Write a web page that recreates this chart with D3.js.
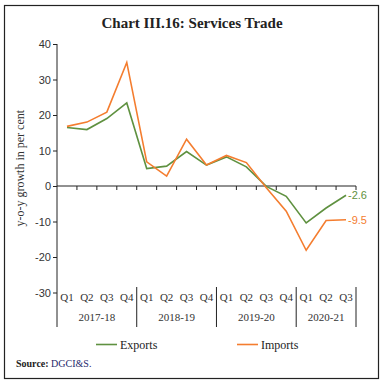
<!DOCTYPE html>
<html>
<head>
<meta charset="utf-8">
<script src="https://cdn.jsdelivr.net/npm/d3@7"></script>
<style>
  body { margin: 0; background: #fff; }
  svg { display: block; }
</style>
</head>
<body>
<script>
// data
let quarters = ["Q1", "Q2", "Q3", "Q4", "Q1", "Q2", "Q3", "Q4", "Q1", "Q2", "Q3", "Q4", "Q1", "Q2", "Q3"];
let years = ["2017-18", "2018-19", "2019-20", "2020-21"];
let yearSpan = [4, 4, 4, 3];
let exports = [16.5, 15.9, 19.0, 23.4, 4.9, 5.6, 9.7, 5.9, 8.2, 5.4, -0.1, -2.9, -10.4, -6.2, -2.6];
let imports = [16.8, 18.0, 20.8, 34.8, 6.8, 2.8, 13.2, 5.9, 8.6, 6.6, -0.5, -7.1, -18.1, -9.7, -9.5];
let yTicks = [-30, -20, -10, 0, 10, 20, 30, 40];

let W = 384, H = 383;
let green = "#5f9140", orange = "#f47d2f";
let serif = "'Liberation Serif', 'DejaVu Serif', serif";
let sans = "'Liberation Sans', Arial, sans-serif";

let svg = d3.select("body").append("svg")
    .attr("width", W)
    .attr("height", H);

// frame
svg.append("rect")
    .attr("x", 4.5).attr("y", 5.5)
    .attr("width", 374).attr("height", 373)
    .attr("fill", "none")
    .attr("stroke", "#222")
    .attr("stroke-width", 1.2);

// title
svg.append("text")
    .attr("x", 192).attr("y", 28)
    .attr("text-anchor", "middle")
    .style("font-family", serif)
    .style("font-weight", "bold")
    .style("font-size", "15px")
    .attr("fill", "#222")
    .text("Chart III.16: Services Trade");

// scales
let x = d3.scaleBand().domain(d3.range(quarters.length)).range([57, 356]);
let y = d3.scaleLinear().domain([-30, 40]).range([292.5, 44]);

// y axis
let yAxis = svg.append("g")
    .attr("transform", "translate(57,0)")
    .call(d3.axisLeft(y).tickValues(yTicks).tickSize(4).tickPadding(2).tickFormat(d => String(d)));
yAxis.select(".domain").remove();
yAxis.selectAll("line").attr("stroke", "#222");
yAxis.selectAll("text")
    .style("font-family", sans)
    .style("font-size", "11px")
    .attr("fill", "#333");

// y axis line from top down through the year labels
svg.append("line")
    .attr("x1", 57).attr("x2", 57)
    .attr("y1", y(40)).attr("y2", 327)
    .attr("stroke", "#222");

// y axis title
svg.append("text")
    .attr("transform", "translate(24," + y(5) + ") rotate(-90)")
    .attr("text-anchor", "middle")
    .style("font-family", serif)
    .style("font-size", "12px")
    .attr("fill", "#333")
    .text("y-o-y growth in per cent");

// zero line with ticks
svg.append("line")
    .attr("x1", 57).attr("x2", 356)
    .attr("y1", y(0)).attr("y2", y(0))
    .attr("stroke", "#222");
svg.selectAll(".zt")
    .data(d3.range(1, quarters.length + 1))
    .enter().append("line")
    .attr("x1", d => x.range()[0] + d * x.step())
    .attr("x2", d => x.range()[0] + d * x.step())
    .attr("y1", y(0)).attr("y2", y(0) + 4)
    .attr("stroke", "#222");

// quarter labels
svg.selectAll(".ql")
    .data(quarters)
    .enter().append("text")
    .attr("x", (d, i) => x(i) + x.bandwidth() / 2)
    .attr("y", 301)
    .attr("text-anchor", "middle")
    .style("font-family", serif)
    .style("font-size", "11px")
    .attr("fill", "#333")
    .text(d => d);

// year labels and separators
let start = 0;
years.forEach(function (yr, k) {
    let x0 = x(start), x1 = x(start + yearSpan[k] - 1) + x.bandwidth();
    svg.append("text")
        .attr("x", (x0 + x1) / 2)
        .attr("y", 321)
        .attr("text-anchor", "middle")
        .style("font-family", serif)
        .style("font-size", "11px")
        .attr("fill", "#333")
        .text(yr);
    svg.append("line")
        .attr("x1", x1).attr("x2", x1)
        .attr("y1", 287).attr("y2", 327)
        .attr("stroke", "#222");
    start += yearSpan[k];
});

// lines
let line = d3.line()
    .x((d, i) => x(i) + x.bandwidth() / 2)
    .y(d => y(d));

svg.append("path")
    .datum(exports)
    .attr("d", line)
    .attr("fill", "none")
    .attr("stroke", green)
    .attr("stroke-width", 1.6);

svg.append("path")
    .datum(imports)
    .attr("d", line)
    .attr("fill", "none")
    .attr("stroke", orange)
    .attr("stroke-width", 1.6);

// end labels
let last = quarters.length - 1;
svg.append("text")
    .attr("x", x(last) + x.bandwidth() / 2 + 2)
    .attr("y", y(exports[last]) + 4)
    .style("font-family", sans)
    .style("font-size", "11px")
    .attr("fill", green)
    .text(exports[last].toFixed(1));
svg.append("text")
    .attr("x", x(last) + x.bandwidth() / 2 + 2)
    .attr("y", y(imports[last]) + 4)
    .style("font-family", sans)
    .style("font-size", "11px")
    .attr("fill", orange)
    .text(imports[last].toFixed(1));

// legend
let legend = [{name: "Exports", color: green, x: 96}, {name: "Imports", color: orange, x: 237}];
legend.forEach(function (d) {
    svg.append("line")
        .attr("x1", d.x).attr("x2", d.x + 21)
        .attr("y1", 344.5).attr("y2", 344.5)
        .attr("stroke", d.color)
        .attr("stroke-width", 1.6);
    svg.append("text")
        .attr("x", d.x + 24)
        .attr("y", 348.5)
        .style("font-family", serif)
        .style("font-size", "12px")
        .attr("fill", "#222")
        .text(d.name);
});

// source
let src = svg.append("text")
    .attr("x", 16).attr("y", 367)
    .style("font-family", serif)
    .style("font-size", "10px");
src.append("tspan").style("font-weight", "bold").attr("fill", "#222").text("Source: ");
src.append("tspan").attr("fill", "#1f2a6b").text("DGCI&S.");
</script>
</body>
</html>
